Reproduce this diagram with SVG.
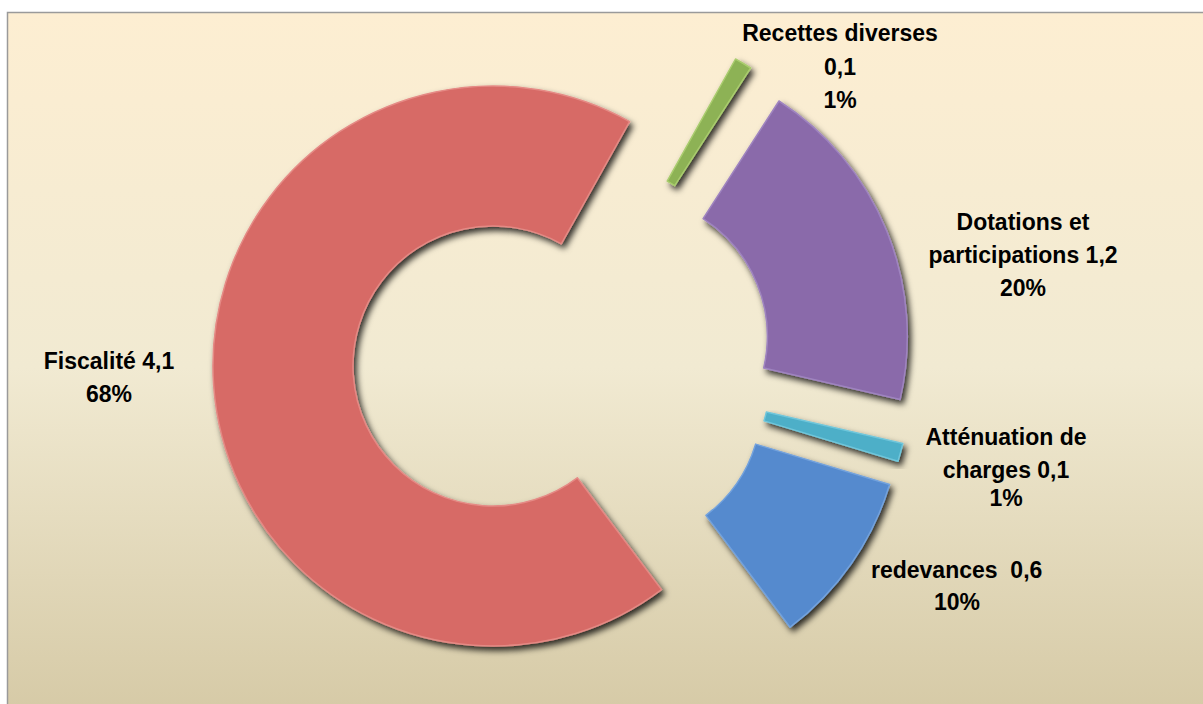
<svg xmlns="http://www.w3.org/2000/svg" width="1203" height="704" viewBox="0 0 1203 704">
<defs>
<linearGradient id="bg" x1="0" y1="0" x2="0" y2="1">
<stop offset="0" stop-color="#FDEED2"/>
<stop offset="0.5" stop-color="#F1EAD2"/>
<stop offset="1" stop-color="#D5C9A5"/>
</linearGradient>
<filter id="sh" x="-10%" y="-10%" width="125%" height="125%">
<feGaussianBlur in="SourceAlpha" stdDeviation="3" result="b"/>
<feOffset in="b" dx="3" dy="4" result="o"/>
<feFlood flood-color="#000" flood-opacity="0.8"/>
<feComposite in2="o" operator="in" result="s"/>
<feMerge><feMergeNode in="s"/><feMergeNode in="SourceGraphic"/></feMerge>
</filter>
<style>
.lbl{font-family:"Liberation Sans",Arial,sans-serif;font-weight:bold;font-size:23px;fill:#000;text-anchor:middle}
.slice{filter:url(#sh);stroke-width:1.5;stroke-linejoin:round}
</style>
</defs>
<rect x="0" y="0" width="1203" height="704" fill="#fff"/>
<rect x="7.5" y="12.5" width="1210" height="710" fill="url(#bg)" stroke="#9a9a9a" stroke-width="1.5"/>

<g id="fiscalite">
<path class="slice" fill="#D76A66" stroke="#E58A85" d="M661.5,589.6 A280,280 0 1 1 629.6,121.6 L561.3,243.8 A140,140 0 1 0 577.3,477.8 Z"/>
</g>
<g id="recettes">
<path class="slice" fill="#8DB254" stroke="#A9CC6E" d="M735.5,59 A280,280 0 0 1 750.6,68 L674.7,185.7 A140,140 0 0 0 667.2,181.2 Z"/>
</g>
<g id="dotations">
<path class="slice" fill="#8A6BAA" stroke="#9F84C0" d="M779,101 A280,280 0 0 1 900.1,399.4 L763.7,367.9 A140,140 0 0 0 703.1,218.7 Z"/>
</g>
<g id="attenuation">
<path class="slice" fill="#4DAFC8" stroke="#6FC6DB" d="M902.8,443.4 A280,280 0 0 1 898,461.3 L764,420.9 A140,140 0 0 0 766.4,411.9 Z"/>
</g>
<g id="redevances">
<path class="slice" fill="#558ACE" stroke="#73A2DD" d="M889.6,484.5 A280,280 0 0 1 790.1,627.2 L705.9,515.4 A140,140 0 0 0 755.6,444.1 Z"/>
</g>

<g id="connectors"></g>

<g id="label-fiscalite">
<text class="lbl" x="109" y="369">Fiscalité 4,1</text>
<text class="lbl" x="109" y="402">68%</text>
</g>
<g id="label-recettes">
<text class="lbl" x="840" y="41">Recettes diverses</text>
<text class="lbl" x="840" y="75">0,1</text>
<text class="lbl" x="840" y="108">1%</text>
</g>
<g id="label-dotations">
<text class="lbl" x="1023" y="230">Dotations et</text>
<text class="lbl" x="1023" y="263">participations 1,2</text>
<text class="lbl" x="1023" y="296">20%</text>
</g>
<g id="label-attenuation">
<text class="lbl" x="1006" y="445">Atténuation de</text>
<text class="lbl" x="1006" y="478">charges 0,1</text>
<text class="lbl" x="1006" y="506">1%</text>
</g>
<g id="label-redevances">
<text class="lbl" x="871" y="578" style="text-anchor:start" xml:space="preserve">redevances  0,6</text>
<text class="lbl" x="957" y="610">10%</text>
</g>
</svg>
